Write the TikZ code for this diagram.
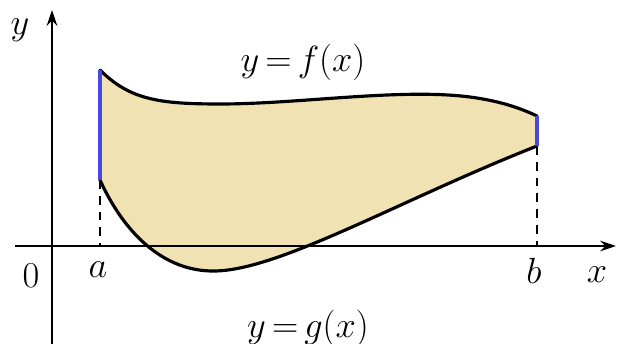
\documentclass[tikz,border=0pt]{standalone}
\usepackage{amsmath, amssymb}
\usepackage{tikz}
\usetikzlibrary{arrows.meta, positioning, calc}

\definecolor{areafill}{RGB}{240,226,178}
\definecolor{edgeblue}{RGB}{72,72,220}

\begin{document}
\begin{tikzpicture}[
    x=0.02cm, y=-0.02cm,
    axis/.style={line width=1.1pt, -{Stealth[length=9pt, width=6pt]}},
    curve/.style={line width=1.8pt, line cap=round},
    bound/.style={line width=2.4pt, edgeblue},
    guide/.style={line width=0.6pt, dash pattern=on 5pt off 4pt},
    lbl/.style={font=\fontsize{20}{24}\selectfont}
]
    \useasboundingbox (0,0) rectangle (619,344);

    % 端点
    \coordinate (fa) at (100,70);
    \coordinate (fb) at (537,116);
    \coordinate (ga) at (100,180);
    \coordinate (gb) at (537,146);
    \coordinate (a0) at (100,246);
    \coordinate (b0) at (537,246);

    % 面积
    \fill[areafill] (fa) .. controls (130,100) and (160,104) .. (220,104)
        .. controls (300,104) and (400,88) .. (470,97)
        .. controls (500,101) and (520,108) .. (fb)
        -- (gb) .. controls (400,200) and (280,270) .. (215,271)
        .. controls (165,272) and (125,235) .. (ga) -- cycle;

    % 坐标轴
    \coordinate (xs) at (15,246);
    \coordinate (xe) at (616,246);
    \coordinate (ys) at (52,344);
    \coordinate (ye) at (52,10);
    \draw[axis] (xs) -- (xe);
    \draw[axis] (ys) -- (ye);

    % 虚线
    \draw[guide] (ga) -- (a0);
    \draw[guide] (gb) -- (b0);

    % 曲线
    \draw[curve] (fa) .. controls (130,100) and (160,104) .. (220,104)
        .. controls (300,104) and (400,88) .. (470,97)
        .. controls (500,101) and (520,108) .. (fb);
    \draw[curve] (ga) .. controls (125,235) and (165,272) .. (215,271)
        .. controls (280,270) and (400,200) .. (gb);

    % 边界
    \draw[bound] (fa) -- (ga);
    \draw[bound] (fb) -- (gb);

    % 标签
    \node[lbl] (ylab) at (20,30) {$y$};
    \node[lbl] (xlab) at (597,275) {$x$};
    \node[lbl] (olab) at (31,276) {$0$};
    \node[lbl] (alab) at (98,270) {$a$};
    \node[lbl] (blab) at (534,271) {$b$};
    \node[lbl] (flab) at (303,62) {$y\,{=}\,f(x)$};
    \node[lbl] (glab) at (308,328) {$y\,{=}\,g(x)$};
\end{tikzpicture}
\end{document}
